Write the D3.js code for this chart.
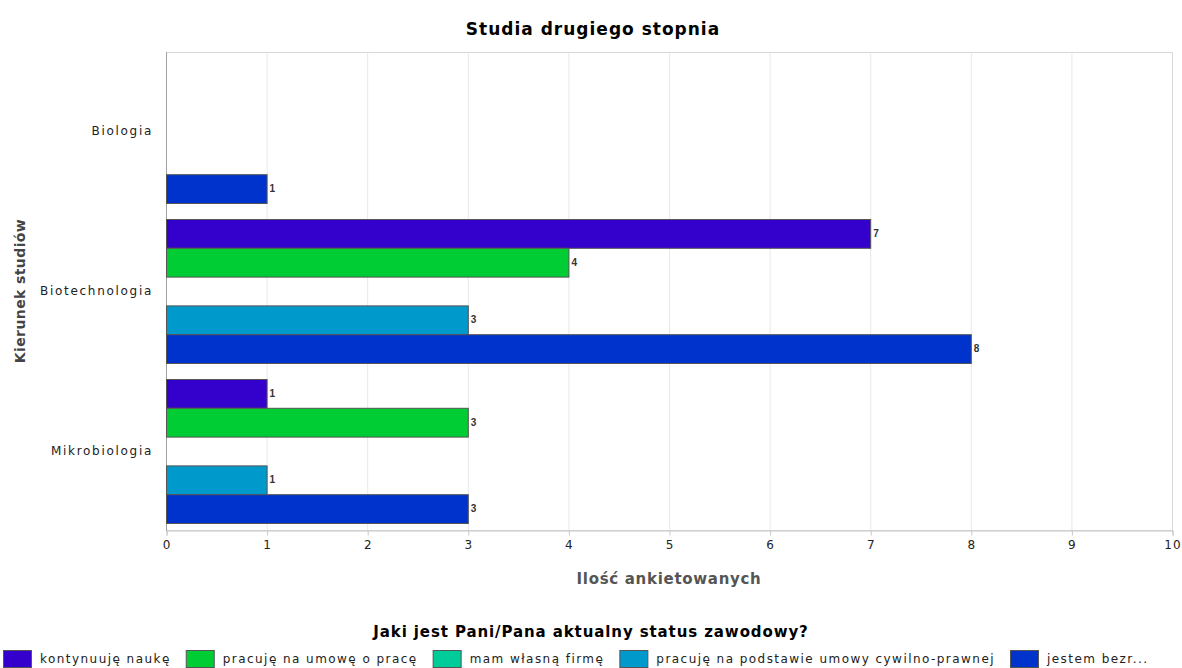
<!DOCTYPE html>
<html>
<head>
<meta charset="utf-8">
<script src="https://cdn.jsdelivr.net/npm/d3@7/dist/d3.min.js"></script>
<style>
  html, body { margin: 0; padding: 0; background: #fff; }
  svg { display: block; }
</style>
</head>
<body>
<svg id="chart" width="1182" height="668"></svg>
<script>
// Fields of study (categories on the vertical axis)
const categories = ["Biologia", "Biotechnologia", "Mikrobiologia"];

// Employment status series, in legend order
const seriesNames = [
  "kontynuuję naukę",
  "pracuję na umowę o pracę",
  "mam własną firmę",
  "pracuję na podstawie umowy cywilno-prawnej",
  "jestem bezr..."
];

// Respondent counts per category (null = no respondents)
const kontynuujeNauke = [null, 7, 1];
const umowaOPrace     = [null, 4, 3];
const wlasnaFirma     = [null, null, null];
const umowaCywilna    = [null, 3, 1];
const bezrobotny      = [1, 8, 3];

const seriesValues = [kontynuujeNauke, umowaOPrace, wlasnaFirma, umowaCywilna, bezrobotny];
const seriesColors = ["#3300cc", "#00cc33", "#00cc99", "#0099cc", "#0033cc"];

const xTicks = [0, 1, 2, 3, 4, 5, 6, 7, 8, 9, 10];

const title = "Studia drugiego stopnia";
const xTitle = "Ilość ankietowanych";
const yTitle = "Kierunek studiów";
const legendTitle = "Jaki jest Pani/Pana aktualny status zawodowy?";

const svg = d3.select("#chart");
const plot = { left: 166, right: 1172, top: 52, bottom: 530 };
const labelFont = "'DejaVu Sans', sans-serif";
const boldFont = "'DejaVu Sans', sans-serif";

const x = d3.scaleLinear().domain([0, 10]).range([plot.left, plot.right]);
const y = d3.scaleBand().domain(categories).range([plot.top, plot.bottom])
  .paddingInner(0.1).paddingOuter(0.04375);
const ySeries = d3.scaleBand().domain(d3.range(seriesNames.length)).range([0, y.bandwidth()]);

// Title
svg.append("text")
  .attr("x", 593).attr("y", 35)
  .attr("text-anchor", "middle")
  .style("font", `bold 17px ${boldFont}`)
  .style("letter-spacing", "1px")
  .attr("fill", "#000")
  .text(title);

// Vertical grid lines
svg.append("g").selectAll("line").data(xTicks.slice(1, -1)).join("line")
  .attr("x1", d => x(d) + 0.5).attr("x2", d => x(d) + 0.5)
  .attr("y1", plot.top).attr("y2", plot.bottom)
  .attr("stroke", "#e8e8e8").attr("stroke-width", 1);

// Plot outline
svg.append("rect")
  .attr("x", plot.left + 0.5).attr("y", plot.top + 0.5)
  .attr("width", plot.right - plot.left).attr("height", plot.bottom - plot.top)
  .attr("fill", "none").attr("stroke", "#d8d8d8");

// Left axis line
svg.append("line")
  .attr("x1", plot.left + 0.5).attr("x2", plot.left + 0.5)
  .attr("y1", plot.top).attr("y2", plot.bottom + 1)
  .attr("stroke", "#a0a0a0");

// Bottom axis
const xAxis = d3.axisBottom(x).tickValues(xTicks).tickSize(5).tickPadding(5).tickFormat(d3.format("d"));
const gx = svg.append("g").attr("transform", `translate(0.5,${plot.bottom + 0.5})`).call(xAxis);
gx.select(".domain").attr("stroke", "#c8c8c8");
gx.selectAll(".tick line").attr("stroke", "#c8c8c8");
gx.selectAll(".tick text")
  .style("font", `12px ${labelFont}`)
  .style("letter-spacing", "1px")
  .attr("fill", "#222");

// Category labels
svg.append("g").selectAll("text").data(categories).join("text")
  .attr("x", 153)
  .attr("y", d => y(d) + y.bandwidth() / 2)
  .attr("dy", "0.35em")
  .attr("text-anchor", "end")
  .style("font", `12px ${labelFont}`)
  .style("letter-spacing", "1.7px")
  .attr("fill", "#222")
  .text(d => d);

// Bars
const bars = [];
seriesValues.forEach((vals, si) => {
  vals.forEach((v, ci) => {
    if (v !== null) bars.push({ si, cat: categories[ci], value: v });
  });
});

const gBars = svg.append("g");
gBars.selectAll("rect").data(bars).join("rect")
  .attr("x", x(0) + 0.5)
  .attr("y", d => y(d.cat) + ySeries(d.si) + 0.5)
  .attr("width", d => x(d.value) - x(0))
  .attr("height", ySeries.bandwidth())
  .attr("fill", d => seriesColors[d.si])
  .attr("stroke", "#555")
  .attr("stroke-width", 1);

// Value labels
gBars.selectAll("text").data(bars).join("text")
  .attr("x", d => x(d.value) + 3)
  .attr("y", d => y(d.cat) + ySeries(d.si) + ySeries.bandwidth() / 2)
  .attr("dy", "0.35em")
  .style("font", "bold 10px 'Liberation Sans', Arial, sans-serif")
  .attr("fill", "#333")
  .text(d => d.value);

// Axis titles
svg.append("text")
  .attr("x", (plot.left + plot.right) / 2).attr("y", 584)
  .attr("text-anchor", "middle")
  .style("font", `bold 15px ${boldFont}`)
  .style("letter-spacing", "0.7px")
  .attr("fill", "#555")
  .text(xTitle);

svg.append("text")
  .attr("transform", `translate(25,${(plot.top + plot.bottom) / 2}) rotate(-90)`)
  .attr("text-anchor", "middle")
  .style("font", `bold 14px ${boldFont}`)
  .style("letter-spacing", "0.4px")
  .attr("fill", "#444")
  .text(yTitle);

// Legend
svg.append("text")
  .attr("x", 591).attr("y", 637)
  .attr("text-anchor", "middle")
  .style("font", `bold 15px ${boldFont}`)
  .style("letter-spacing", "0.9px")
  .attr("fill", "#000")
  .text(legendTitle);

const legend = svg.append("g");
let lx = 3;
seriesNames.forEach((name, i) => {
  legend.append("rect")
    .attr("x", lx + 0.5).attr("y", 650.5)
    .attr("width", 28).attr("height", 17)
    .attr("fill", seriesColors[i])
    .attr("stroke", "#555");
  const t = legend.append("text")
    .attr("x", lx + 37).attr("y", 663)
    .style("font", `12px ${labelFont}`)
    .style("letter-spacing", "1.45px")
    .attr("fill", "#222")
    .text(name);
  lx += 37 + t.node().getComputedTextLength() + 15;
});
</script>
</body>
</html>
